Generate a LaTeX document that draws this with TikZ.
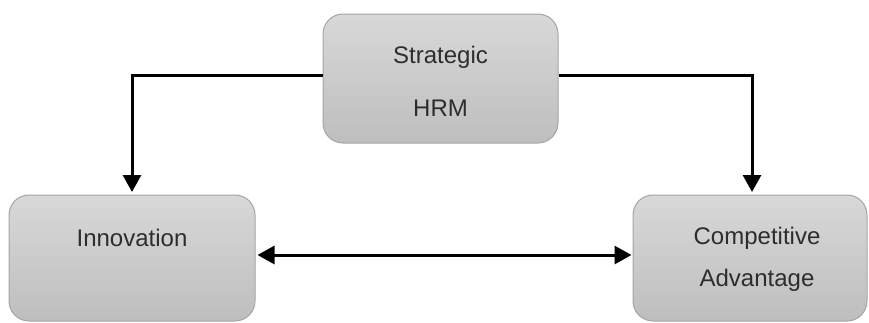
\documentclass[tikz,border=0pt]{standalone}
\usepackage{fontspec}
\setmainfont{Liberation Sans}
\usetikzlibrary{arrows.meta}
\definecolor{boxtop}{RGB}{216,216,216}
\definecolor{boxbot}{RGB}{190,190,190}
\definecolor{boxline}{RGB}{165,165,165}
\definecolor{txt}{RGB}{45,45,45}
\begin{document}
\begin{tikzpicture}[x=1pt,y=-1pt,
  panel/.style={draw=boxline, line width=1pt, rounded corners=20pt,
    top color=boxtop, bottom color=boxbot, inner sep=0pt},
  caption/.style={font=\fontsize{24}{28}\selectfont, text=txt, inner sep=0pt},
  link/.style={line width=3pt, -{Triangle[width=18pt,length=17pt]}, shorten >=2.5pt},
  biglink/.style={line width=3pt, {Triangle[width=18pt,length=17pt]}-{Triangle[width=18pt,length=17pt]}, shorten >=1pt, shorten <=2pt}]
\useasboundingbox (0,0) rectangle (869,322);

% boxes
\node[panel, minimum width=235pt, minimum height=129pt] (hrm) at (440.5,78.5) {};
\node[panel, minimum width=246pt, minimum height=126pt] (innov) at (132,258) {};
\node[panel, minimum width=234pt, minimum height=126pt] (comp) at (750,258) {};

% box texts
\node[caption] (hrm1) at (440.5,57) {Strategic};
\node[caption] (hrm2) at (440.5,108) {HRM};
\node[caption] (innov1) at (132,238) {Innovation};
\node[caption] (comp1) at (757,238) {Competitive};
\node[caption] (comp2) at (757,280) {Advantage};

% connectors
\coordinate (hl) at ([yshift=3.5pt]hrm.west);
\coordinate (hr) at ([yshift=3.5pt]hrm.east);
\draw[link] (hl) -| (innov.north);
\draw[link] (hr) -| ([xshift=2pt]comp.north);
\draw[biglink] ([yshift=3pt]innov.east) -- ([yshift=3pt]comp.west);
\end{tikzpicture}
\end{document}
